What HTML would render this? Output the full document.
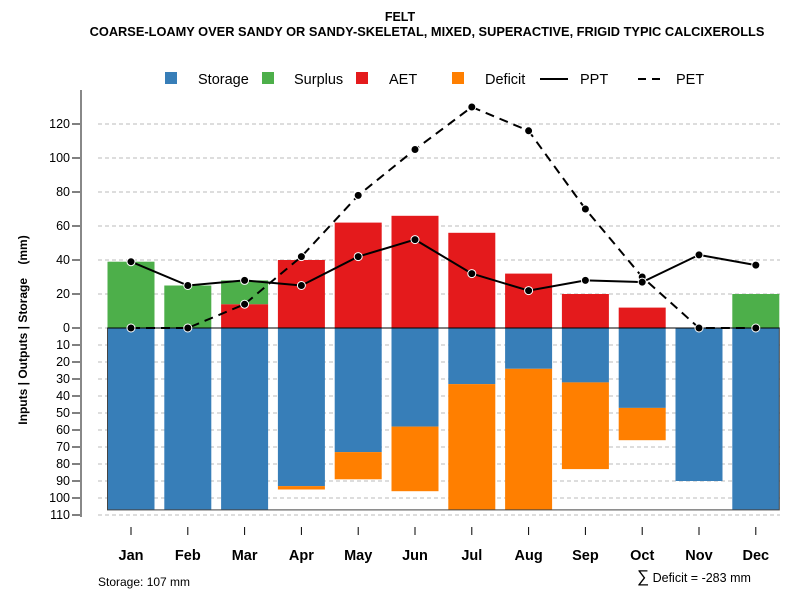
<!DOCTYPE html>
<html><head><meta charset="utf-8"><style>
body{margin:0;background:#fff}
svg{font-family:"Liberation Sans",sans-serif}
</style></head><body>
<svg id="c" width="800" height="600" xmlns="http://www.w3.org/2000/svg">
<text x="400" y="21" text-anchor="middle" font-size="12.5" font-weight="bold">FELT</text>
<text x="427" y="36" text-anchor="middle" font-size="12.8" font-weight="bold">COARSE-LOAMY OVER SANDY OR SANDY-SKELETAL, MIXED, SUPERACTIVE, FRIGID TYPIC CALCIXEROLLS</text>
<g font-size="14.5">
<rect x="165" y="72" width="12" height="12" fill="#377EB8"/><text x="198" y="84">Storage</text>
<rect x="262" y="72" width="12" height="12" fill="#4DAF4A"/><text x="294" y="84">Surplus</text>
<rect x="356" y="72" width="12" height="12" fill="#E41A1C"/><text x="389" y="84">AET</text>
<rect x="452" y="72" width="12" height="12" fill="#FF7F00"/><text x="485" y="84">Deficit</text>
<line x1="540" y1="79" x2="568" y2="79" stroke="#000" stroke-width="2"/><text x="580" y="84">PPT</text>
<line x1="638" y1="79" x2="666" y2="79" stroke="#000" stroke-width="2" stroke-dasharray="8,6"/><text x="676" y="84">PET</text>
</g>
<text transform="translate(27,330) rotate(-90)" text-anchor="middle" font-size="12" font-weight="bold">Inputs | Outputs | Storage &#160;&#160;&#160;(mm)</text>
<text x="98" y="586" font-size="12">Storage: 107 mm</text>
<text x="637" y="582" font-size="12.5"><tspan font-size="17">∑</tspan> Deficit = -283 mm</text>
</svg>
<script>
const months=["Jan","Feb","Mar","Apr","May","Jun","Jul","Aug","Sep","Oct","Nov","Dec"];
const storage=[107,107,107,93,73,58,33,24,32,47,90,107];
const deficit=[0,0,0,2,16,38,74,83,51,19,0,0];
const aet=[0,0,14,40,62,66,56,32,20,12,0,0];
const surplus=[39,25,14,0,0,0,0,0,0,0,0,20];
const ppt=[39,25,28,25,42,52,32,22,28,27,43,37];
const pet=[0,0,14,42,78,105,130,116,70,30,0,0];
const posTicks=[0,20,40,60,80,100,120];
const negTicks=[10,20,30,40,50,60,70,80,90,100,110];
const capacity=107;
const svg=document.getElementById('c');const NS='http://www.w3.org/2000/svg';
const y=v=>328-v*1.7;
const x=i=>131+i*56.8;
const bw=47;
function mk(t,a,p){const e=document.createElementNS(NS,t);for(const k in a)e.setAttribute(k,a[k]);(p||svg).appendChild(e);return e;}
const g=mk('g',{});


posTicks.forEach(v=>{
 const l=mk('line',{x1:98,x2:780,y1:y(v),y2:y(v),stroke:'#bbb','stroke-dasharray':'4,3'},g);
 
 
 const t=mk('line',{x1:72,x2:81,y1:y(v),y2:y(v),stroke:'#000'},g);
 
 
 const tx=mk('text',{x:70,y:y(v)+4,'text-anchor':'end','font-size':12.5},g);tx.textContent=v;
 
 
});
negTicks.forEach(v=>{
 const l=mk('line',{x1:98,x2:780,y1:y(-v),y2:y(-v),stroke:'#bbb','stroke-dasharray':'4,3'},g);
 
 
 const t=mk('line',{x1:72,x2:81,y1:y(-v),y2:y(-v),stroke:'#000'},g);
 
 
 const tx=mk('text',{x:70,y:y(-v)+4,'text-anchor':'end','font-size':12.5},g);tx.textContent=v;
 
 
});
const ax=mk('line',{x1:81,x2:81,y1:90,y2:517,stroke:'#888','stroke-width':2},g);


months.forEach((m,i)=>{
 const cx=x(i),L=cx-bw/2;
 const b1=mk('rect',{x:L,y:y(0),width:bw,height:storage[i]*1.7,fill:'#377EB8'},g);
 
 
 if(deficit[i]>0){const b=mk('rect',{x:L,y:y(-storage[i]),width:bw,height:deficit[i]*1.7,fill:'#FF7F00'},g);
 
 }
 if(aet[i]>0){const b=mk('rect',{x:L,y:y(aet[i]),width:bw,height:aet[i]*1.7,fill:'#E41A1C'},g);
 
 }
 if(surplus[i]>0){const b=mk('rect',{x:L,y:y(aet[i]+surplus[i]),width:bw,height:surplus[i]*1.7,fill:'#4DAF4A'},g);
 
 }
 const t=mk('line',{x1:cx,x2:cx,y1:527,y2:535,stroke:'#000'},g);
 
 
 const tx=mk('text',{x:cx,y:560,'text-anchor':'middle','font-size':14.5,'font-weight':'bold'},g);tx.textContent=m;
 
 
});
const box=mk('rect',{x:x(0)-bw/2,y:y(0),width:x(11)+bw/2-(x(0)-bw/2),height:capacity*1.7,fill:'none',stroke:'#444','stroke-width':1},g);


const zl=mk('line',{x1:x(0)-bw/2,x2:x(11)+bw/2,y1:y(0),y2:y(0),stroke:'#000'},g);


function series(arr,dash,name){
 const p=mk('polyline',{points:arr.map((v,i)=>x(i)+','+y(v)).join(' '),fill:'none',stroke:'#000','stroke-width':2,'stroke-dasharray':dash},g);
 
 
 arr.forEach((v,i)=>{const c=mk('circle',{cx:x(i),cy:y(v),r:4,fill:'#000',stroke:'#fff','stroke-width':1},g);
 
 });
}
series(pet,'9,6','pet');
series(ppt,'none','ppt');
</script>
</body></html>
